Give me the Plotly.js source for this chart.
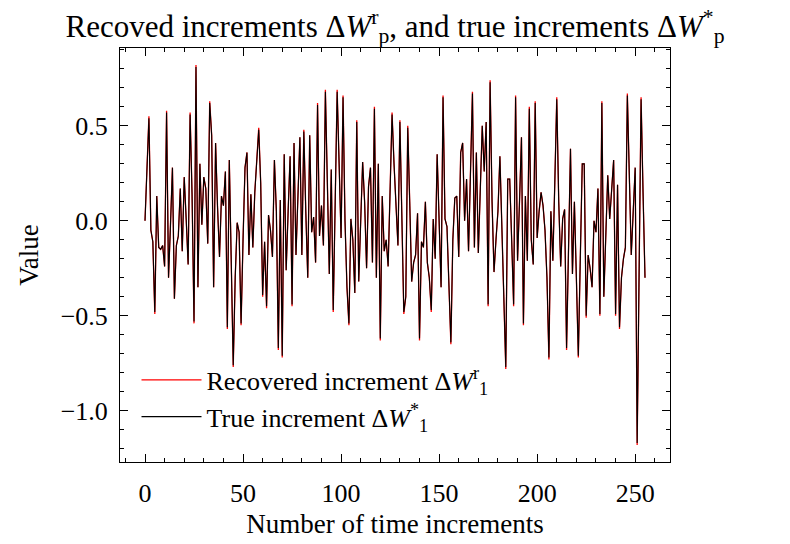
<!DOCTYPE html>
<html>
<head>
<meta charset="utf-8">
<script src="https://cdn.plot.ly/plotly-3.0.1.min.js"></script>
<style>
  html, body { margin: 0; padding: 0; background: #fff; }
  #chart { width: 790px; height: 544px; }
</style>
</head>
<body>
<div id="chart"></div>
<script>
// increments, one value per time step (0..255)
const trueIncrements = [
   0.00,  0.28,  0.54, -0.05, -0.11, -0.48,  0.13, -0.14, -0.15, -0.13, -0.24,  0.57, -0.30, -0.02,  0.28, -0.41,
  -0.13, -0.08,  0.17, -0.16,  0.23,  0.01, -0.23,  0.56,  0.14, -0.53,  0.81, -0.35,  0.30, -0.02,  0.23,  0.17,
  -0.12,  0.62,  0.45, -0.35,  0.41,  0.07, -0.19,  0.13,  0.08,  0.26, -0.56,  0.32, -0.20, -0.76, -0.30, -0.01,
  -0.06, -0.54, -0.10,  0.28,  0.36, -0.18,  0.14, -0.14,  0.15,  0.30,  0.48,  0.20, -0.39, -0.11, -0.45,  0.03,
  -0.05, -0.19,  0.32,  0.05, -0.67,  0.11, -0.71,  0.35, -0.26,  0.05,  0.34, -0.44,  0.41, -0.18,  0.15,  0.44,
  -0.18,  0.47,  0.05, -0.30,  0.45, -0.06,  0.02, -0.22,  0.61, -0.08,  0.08, -0.13,  0.68,  0.20, -0.28,  0.27,
  -0.47,  0.10,  0.68,  0.30, -0.09,  0.65,  0.00, -0.35, -0.54,  0.01, -0.10, -0.38,  0.52, -0.32, -0.05,  0.31,
   0.10, -0.25,  0.18,  0.28, -0.22,  0.59, -0.30,  0.30, -0.62,  0.13, -0.16, -0.10, -0.24,  0.15,  0.56,  0.30,
   0.05, -0.13,  0.52, -0.05, -0.48, -0.40,  0.49,  0.10, -0.32, -0.22, -0.18,  0.04, -0.62, -0.11, -0.14,  0.10,
  -0.22, -0.30, -0.47,  0.01, -0.20,  0.35, -0.05, -0.35,  0.65,  0.01, -0.03, -0.35, -0.64, -0.10,  0.12,  0.13,
  -0.19,  0.36,  0.41,  0.00,  0.22, -0.16,  0.30,  0.67, -0.14,  0.36, -0.17,  0.15,  0.50,  0.26,  0.52, -0.44,
   0.73,  0.10, -0.27, -0.10,  0.05,  0.34,  0.00, -0.40, -0.77,  0.22,  0.22, -0.10, -0.44,  0.65, -0.21,  0.10,
   0.44, -0.54,  0.13, -0.21,  0.59, -0.10, -0.23,  0.62, -0.09,  0.05,  0.15,  0.08, -0.05, -0.30, -0.72,  0.05,
  -0.21,  0.20,  0.64,  0.10, -0.24,  0.01,  0.06, -0.67, -0.10,  0.38, -0.28,  0.10, -0.30, -0.71, -0.20,  0.30,
   0.30, -0.50, -0.18, -0.25, -0.35,  0.00, -0.06,  0.17, -0.49,  0.62, -0.40, -0.05,  0.24,  0.01,  0.20,  0.32,
  -0.49,  0.19, -0.56, -0.30, -0.20, -0.14,  0.66,  0.22, -0.18,  0.05,  0.28, -1.17, -0.25,  0.64,  0.15, -0.30
];

// recovered series sits on top of the true one; only the tips differ a hair
const recoveredIncrements = [
   0.00,  0.28,  0.55, -0.05, -0.11, -0.49,  0.13, -0.14, -0.15, -0.13, -0.24,  0.58, -0.30, -0.02,  0.28, -0.41,
  -0.13, -0.08,  0.17, -0.16,  0.23,  0.01, -0.23,  0.57,  0.14, -0.54,  0.82, -0.35,  0.30, -0.02,  0.23,  0.17,
  -0.12,  0.63,  0.45, -0.35,  0.41,  0.07, -0.19,  0.13,  0.08,  0.26, -0.57,  0.32, -0.20, -0.77, -0.30, -0.01,
  -0.06, -0.55, -0.10,  0.28,  0.36, -0.18,  0.14, -0.14,  0.15,  0.30,  0.49,  0.20, -0.40, -0.11, -0.46,  0.03,
  -0.05, -0.19,  0.32,  0.05, -0.68,  0.11, -0.72,  0.35, -0.26,  0.05,  0.34, -0.45,  0.41, -0.18,  0.15,  0.44,
  -0.18,  0.48,  0.05, -0.30,  0.45, -0.06,  0.02, -0.22,  0.62, -0.08,  0.08, -0.13,  0.69,  0.20, -0.28,  0.27,
  -0.48,  0.10,  0.69,  0.30, -0.09,  0.66,  0.00, -0.35, -0.55,  0.01, -0.10, -0.38,  0.53, -0.32, -0.05,  0.31,
   0.10, -0.25,  0.18,  0.28, -0.22,  0.60, -0.30,  0.30, -0.63,  0.13, -0.16, -0.10, -0.24,  0.15,  0.57,  0.30,
   0.05, -0.13,  0.53, -0.05, -0.49, -0.40,  0.50,  0.10, -0.32, -0.22, -0.18,  0.04, -0.63, -0.11, -0.14,  0.10,
  -0.22, -0.30, -0.48,  0.01, -0.20,  0.35, -0.05, -0.35,  0.66,  0.01, -0.03, -0.35, -0.65, -0.10,  0.12,  0.13,
  -0.19,  0.36,  0.41,  0.00,  0.22, -0.16,  0.30,  0.68, -0.14,  0.36, -0.17,  0.15,  0.50,  0.26,  0.52, -0.45,
   0.74,  0.10, -0.27, -0.10,  0.05,  0.34,  0.00, -0.40, -0.78,  0.22,  0.22, -0.10, -0.45,  0.66, -0.21,  0.10,
   0.44, -0.55,  0.13, -0.21,  0.60, -0.10, -0.23,  0.63, -0.09,  0.05,  0.15,  0.08, -0.05, -0.30, -0.73,  0.05,
  -0.21,  0.20,  0.65,  0.10, -0.24,  0.01,  0.06, -0.68, -0.10,  0.38, -0.28,  0.10, -0.30, -0.72, -0.20,  0.30,
   0.30, -0.51, -0.18, -0.25, -0.35,  0.00, -0.06,  0.17, -0.50,  0.63, -0.40, -0.05,  0.24,  0.01,  0.20,  0.32,
  -0.50,  0.19, -0.57, -0.30, -0.20, -0.14,  0.67,  0.22, -0.18,  0.05,  0.28, -1.18, -0.25,  0.65,  0.15, -0.30
];

const steps = trueIncrements.map((_, i) => i);

const xTickVals = [0, 50, 100, 150, 200, 250];
const yTickVals = [-1.0, -0.5, 0.0, 0.5];

const serif = 'Liberation Serif, DejaVu Serif, serif';
const dW = (sup, sub) => `\u0394<i>W</i><sup>${sup}</sup><sub>${sub}</sub>`;

const traces = [
    {
        x: steps,
        y: recoveredIncrements,
        type: 'scatter',
        mode: 'lines',
        name: 'Recovered increment ' + dW('r', '1'),
        line: { color: '#ff0000', width: 1.3 }
    },
    {
        x: steps,
        y: trueIncrements,
        type: 'scatter',
        mode: 'lines',
        name: 'True increment ' + dW('*', '1'),
        line: { color: '#000000', width: 1.1 }
    }
];

const axisCommon = {
    showline: true,
    linecolor: '#000',
    linewidth: 1,
    mirror: 'allticks',
    ticks: 'inside',
    ticklen: 8,
    tickwidth: 1,
    tickcolor: '#000',
    showgrid: false,
    zeroline: false,
    tickfont: { family: serif, size: 26, color: '#000' }
};

const layout = {
    width: 790,
    height: 544,
    margin: { l: 120, r: 120, t: 48, b: 82 },
    paper_bgcolor: '#fff',
    plot_bgcolor: '#fff',
    font: { family: serif, color: '#000' },
    title: {
        text: 'Recoved increments ' + dW('r', 'p') + ', and true increments ' + dW('*', 'p'),
        font: { family: serif, size: 31, color: '#000' },
        x: 0.5,
        xanchor: 'center',
        y: 0.952,
        yanchor: 'middle'
    },
    xaxis: Object.assign({}, axisCommon, {
        range: [-12.75, 267.75],
        tickvals: xTickVals,
        ticklabelstandoff: 8,
        minor: { dtick: 10, ticks: 'inside', ticklen: 4, tickcolor: '#000', showgrid: false },
        title: { text: 'Number of time increments', font: { family: serif, size: 27, color: '#000' }, standoff: 6 }
    }),
    yaxis: Object.assign({}, axisCommon, {
        range: [-1.27, 0.91],
        tickvals: yTickVals,
        tickformat: '.1f',
        ticklabelstandoff: 6,
        minor: { dtick: 0.1, tick0: 0, ticks: 'inside', ticklen: 4, tickcolor: '#000', showgrid: false },
        title: { text: 'Value', font: { family: serif, size: 27, color: '#000' }, standoff: 14 }
    }),
    showlegend: true,
    legend: {
        x: 0.03,
        y: 0.255,
        xanchor: 'left',
        yanchor: 'top',
        bgcolor: 'rgba(0,0,0,0)',
        borderwidth: 0,
        itemwidth: 60,
        tracegroupgap: 4,
        font: { family: serif, size: 26, color: '#000' }
    }
};

Plotly.newPlot('chart', traces, layout, { displayModeBar: false, staticPlot: true });
</script>
</body>
</html>
